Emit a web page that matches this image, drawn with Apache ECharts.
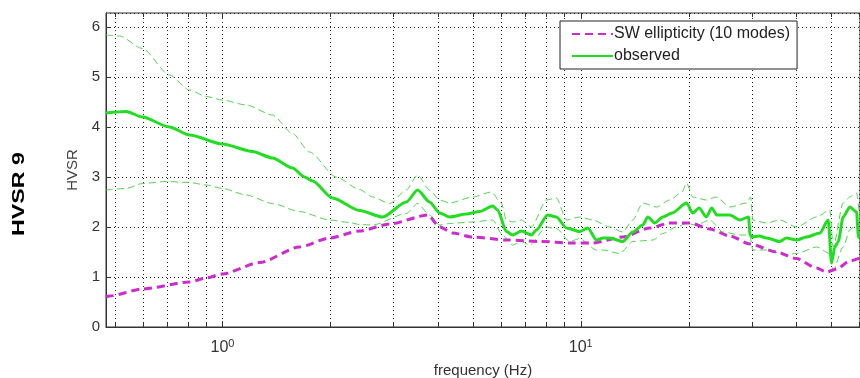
<!DOCTYPE html>
<html>
<head>
<meta charset="utf-8">
<script src="https://cdn.jsdelivr.net/npm/echarts@6/dist/echarts.min.js"></script>
<style>html,body{margin:0;padding:0;background:#fff}#c{width:860px;height:378px}</style>
</head>
<body>
<div id="c"></div>
<script>
// ---- data (frequency in Hz, HVSR value) ----
const ellipticity = [[0.473,0.60],[0.484,0.62],[0.598,0.76],[0.809,0.90],[0.90,0.98],[1.0,1.06],[1.27,1.29],[1.64,1.60],[1.99,1.78],[2.41,1.92],[2.93,2.06],[3.74,2.24],[4.04,2.00],[4.39,1.88],[4.99,1.80],[6.2,1.74],[7.68,1.71],[9.5,1.68],[10.8,1.68],[13.1,1.80],[15.6,1.98],[17.7,2.08],[20.2,2.08],[22.9,1.96],[26.1,1.82],[29.7,1.66],[35.2,1.50],[40.0,1.37],[45.5,1.18],[48.6,1.10],[51.8,1.16],[56.4,1.32],[60.2,1.38]];
const observed = [[0.473,4.28],[0.538,4.31],[0.598,4.20],[0.711,4.00],[0.809,3.84],[1.0,3.66],[1.213,3.51],[1.379,3.38],[1.569,3.18],[1.695,3.00],[1.784,2.92],[2.029,2.58],[2.414,2.33],[2.799,2.20],[3.26,2.50],[3.505,2.74],[3.786,2.50],[4.037,2.28],[4.306,2.20],[4.794,2.26],[5.223,2.31],[5.678,2.42],[5.864,2.34],[6.201,1.91],[6.458,1.84],[6.83,1.92],[7.284,1.84],[7.521,1.94],[8.087,2.24],[8.553,2.20],[9.123,1.98],[9.936,1.91],[10.46,1.98],[11.07,1.74],[11.54,1.78],[12.05,1.78],[13.10,1.71],[13.98,1.90],[14.90,2.04],[15.39,2.20],[16.09,2.08],[16.95,2.20],[18.0,2.28],[19.74,2.48],[20.55,2.28],[21.4,2.38],[22.44,2.20],[23.2,2.38],[24.0,2.24],[26.08,2.24],[27.81,2.14],[29.4,2.20],[29.7,1.85],[30.0,1.80],[31.5,1.82],[33.0,1.78],[35.97,1.71],[37.5,1.78],[40.05,1.74],[42.7,1.80],[46.52,1.88],[49.07,2.14],[50.14,1.28],[51.2,1.60],[52.3,1.70],[54.03,2.20],[56.41,2.40],[58.89,2.30],[59.6,1.80],[60.2,1.85]];
const observedUpper = [[0.473,5.84],[0.516,5.82],[0.598,5.57],[0.711,5.04],[0.809,4.74],[0.901,4.61],[1.0,4.54],[1.165,4.44],[1.379,4.24],[1.569,3.87],[1.75,3.50],[2.078,3.00],[2.414,2.75],[2.624,2.60],[2.928,2.47],[3.26,2.74],[3.505,3.04],[3.786,2.74],[4.037,2.54],[4.306,2.48],[4.992,2.60],[5.63,2.70],[6.004,2.48],[6.201,2.14],[6.458,2.10],[6.83,2.14],[7.284,2.00],[8.02,2.54],[8.553,2.58],[9.123,2.14],[9.936,2.20],[10.80,2.14],[12.05,2.00],[13.10,1.90],[13.98,2.14],[14.90,2.48],[16.27,2.40],[17.73,2.54],[19.2,2.70],[19.74,2.88],[20.55,2.60],[22.44,2.54],[23.93,2.60],[26.08,2.40],[29.03,2.48],[29.8,2.60],[30.23,2.14],[33.02,2.08],[35.97,2.14],[40.05,2.00],[45.55,2.20],[49.60,2.34],[50.66,1.60],[54.03,2.48],[56.41,2.60],[58.89,2.68],[60.2,2.10]];
const observedLower = [[0.473,2.74],[0.538,2.77],[0.598,2.87],[0.696,2.91],[0.809,2.89],[0.901,2.84],[1.0,2.77],[1.165,2.64],[1.379,2.47],[1.641,2.31],[1.99,2.14],[2.263,2.09],[2.414,2.05],[2.624,2.04],[3.26,2.27],[3.505,2.47],[3.786,2.24],[4.037,2.04],[4.306,2.07],[4.992,2.10],[5.678,2.14],[6.05,1.84],[6.458,1.64],[6.83,1.71],[7.204,1.64],[8.02,2.00],[8.553,1.97],[9.318,1.71],[9.936,1.77],[11.07,1.54],[11.54,1.54],[12.85,1.47],[13.98,1.71],[15.92,1.74],[16.95,1.87],[18.51,2.00],[19.74,2.07],[21.05,2.04],[22.92,2.14],[24.97,1.90],[27.81,1.84],[29.66,1.84],[30.23,1.54],[33.73,1.54],[36.74,1.44],[40.05,1.47],[45.55,1.60],[49.6,1.47],[50.66,1.14],[54.03,1.60],[56.41,1.94],[58.89,2.07],[60.2,1.60]];
const gridFreqs = [0.5,0.6,0.7,0.8,0.9,1,2,3,4,5,6,7,8,9,10,20,30,40,50,60];
const xMin = 0.473, xMax = 60.2, yMin = 0, yMax = 6.28;
const seriesNames = ['SW ellipticity (10 modes)', 'observed'];
const panelLabel = 'HVSR 9';

const FONT = '"Liberation Sans", Arial, sans-serif';
const chart = echarts.init(document.getElementById('c'));

function renderGrid(params, api) {
  const f = api.value(0);
  const b = api.coord([f, yMin]);
  const t = api.coord([f, yMax]);
  const x = Math.round(b[0]) + 0.5;
  const e = Math.log10(f);
  const major = Math.abs(e - Math.round(e)) < 1e-9;
  const tl = major ? 6 : 4;
  return {
    type: 'group',
    children: [
      {type: 'line', shape: {x1: x, y1: b[1], x2: x, y2: t[1]}, style: {stroke: '#222', lineWidth: 1, lineDash: [1, 3]}},
      {type: 'line', shape: {x1: x, y1: b[1], x2: x, y2: b[1] - tl}, style: {stroke: '#333', lineWidth: 1}},
      {type: 'line', shape: {x1: x, y1: t[1], x2: x, y2: t[1] + tl}, style: {stroke: '#333', lineWidth: 1}}
    ]
  };
}

chart.setOption({
  animation: false,
  backgroundColor: '#fff',
  grid: {left: 106, right: 0, top: 13, bottom: 51, show: true, borderColor: '#333', borderWidth: 1, backgroundColor: 'transparent',
    containLabel: false, outerBoundsMode: 'none'},
  xAxis: {
    type: 'log', logBase: 10, min: xMin, max: xMax,
    name: 'frequency (Hz)', nameLocation: 'middle', nameGap: 32,
    nameTextStyle: {fontFamily: FONT, fontSize: 15, color: '#333'},
    axisLine: {lineStyle: {color: '#333', width: 1}},
    axisTick: {show: false},
    splitLine: {show: false},
    minorTick: {show: false},
    axisLabel: {
      margin: 12, showMinLabel: false, showMaxLabel: false,
      formatter: function (v) {
        const e = Math.log10(v);
        if (Math.abs(e - Math.round(e)) > 1e-6) return '';
        return '{b|10}{s|' + Math.round(e) + '}';
      },
      rich: {
        b: {fontFamily: FONT, fontSize: 16, color: '#333', lineHeight: 18},
        s: {fontFamily: FONT, fontSize: 11, color: '#333', lineHeight: 18, padding: [0, 0, 9, 0]}
      }
    }
  },
  yAxis: {
    type: 'value', min: yMin, max: yMax, interval: 1,
    name: 'HVSR', nameLocation: 'middle', nameGap: 21,
    nameTextStyle: {fontFamily: FONT, fontSize: 15, color: '#444'},
    axisLine: {show: true, lineStyle: {color: '#333', width: 1}},
    axisTick: {show: true, inside: true, length: 5, lineStyle: {color: '#333'}},
    axisLabel: {fontFamily: FONT, fontSize: 15, color: '#333', margin: 6, showMaxLabel: false,
      formatter: function (v) { return Number.isInteger(v) ? String(v) : ''; }},
    splitLine: {show: true, lineStyle: {color: '#222', width: 1, type: [1, 3]}}
  },
  legend: {
    data: seriesNames,
    orient: 'vertical', left: 560, top: 21,
    padding: [5, 7, 5, 11],
    itemWidth: 41, itemHeight: 14, itemGap: 6,
    itemStyle: {color: 'transparent', borderColor: 'transparent', borderWidth: 0, opacity: 0},
    backgroundColor: '#fff', borderColor: '#222', borderWidth: 1,
    textStyle: {fontFamily: FONT, fontSize: 16, color: '#222', lineHeight: 16, padding: [0, 0, 0, -4]}
  },
  graphic: [{
    type: 'text', x: 12, y: 236, rotation: Math.PI / 2, scaleX: 1.45,
    style: {text: panelLabel, fontFamily: FONT, fontSize: 16, fontWeight: 'bold', fill: '#000', textAlign: 'left', textVerticalAlign: 'top'}
  }],
  series: [
    {type: 'custom', name: 'grid', renderItem: renderGrid, data: gridFreqs.map(f => [f]), silent: true, z: 1, clip: false},
    {type: 'line', name: 'upper', data: observedUpper, symbol: 'none', silent: true, z: 3, smooth: 0.25, smoothMonotone: 'x',
      lineStyle: {color: '#3fcf3f', width: 1, type: [7, 4], opacity: 0.9}},
    {type: 'line', name: 'lower', data: observedLower, symbol: 'none', silent: true, z: 3, smooth: 0.25, smoothMonotone: 'x',
      lineStyle: {color: '#3fcf3f', width: 1, type: [7, 4], opacity: 0.9}},
    {type: 'line', name: seriesNames[0], data: ellipticity, symbol: 'none', z: 4, smooth: 0.25, smoothMonotone: 'x',
      itemStyle: {color: '#cc2ccc'},
      lineStyle: {color: '#cc2ccc', width: 3, type: [8, 5]}},
    {type: 'line', name: seriesNames[1], data: observed, symbol: 'none', z: 5, smooth: 0.25, smoothMonotone: 'x',
      itemStyle: {color: '#22dd22'},
      lineStyle: {color: '#22dd22', width: 3}}
  ]
});
</script>
</body>
</html>
